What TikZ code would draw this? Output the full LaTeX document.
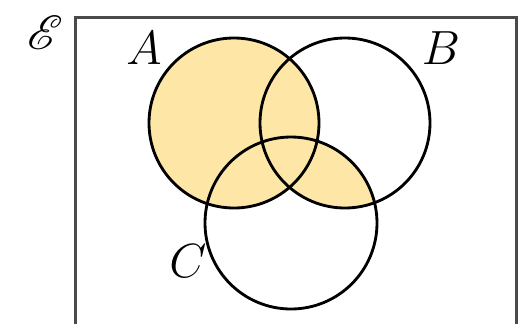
\documentclass[tikz,border=0pt]{standalone}
\usepackage{mathrsfs}
\definecolor{venyellow}{HTML}{FDE6A6}
\definecolor{framegray}{HTML}{4A4A4A}
\begin{document}
\begin{tikzpicture}[x=0.3pt,y=-0.3pt,
  setc/.style={draw=black,line width=0.85pt},
  lbl/.style={font=\fontsize{15}{18}\selectfont,inner sep=0pt}]
\useasboundingbox (0,0) rectangle (529,324);
\coordinate (ca) at (234,123);
\coordinate (cb) at (345,123);
\coordinate (cc) at (291,223);
% shading: A, and B intersect C
\fill[venyellow] (ca) circle[radius=85];
\begin{scope}
  \clip (cb) circle[radius=85];
  \fill[venyellow] (cc) circle[radius=86];
\end{scope}
% universal set frame (open at bottom)
\draw[draw=framegray,line width=0.9pt] (75,324) coordinate (fl) -- (75,17) -- (516,17) -- (516,324) coordinate (fr);
% circles
\draw[setc] (ca) circle[radius=85];
\draw[setc] (cb) circle[radius=85];
\draw[setc] (cc) circle[radius=86];
% labels
\node[lbl] (le) at (45,33) {$\mathscr{E}$};
\node[lbl] (la) at (144,48) {$A$};
\node[lbl] (lb) at (441,48) {$B$};
\node[lbl] (lc) at (188,261) {$C$};
\end{tikzpicture}
\end{document}
